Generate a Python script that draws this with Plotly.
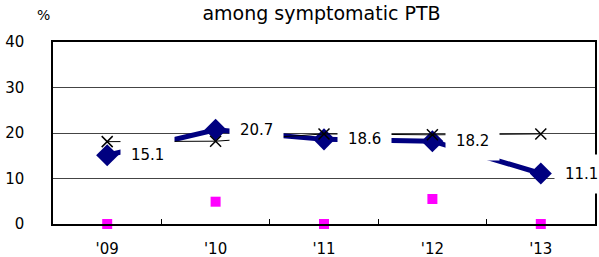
import plotly.graph_objects as go

years = ["'09", "'10", "'11", "'12", "'13"]
blue_vals = [15.1, 20.7, 18.6, 18.2, 11.1]
black_vals = [18.1, 18.2, 19.8, 19.6, 19.8]
pink_vals = [0, 4.9, 0, 5.5, 0]
y_ticks = [0, 10, 20, 30, 40]

FONT = "DejaVu Sans"

fig = go.Figure()
fig.add_trace(go.Scatter(
    x=years, y=blue_vals, mode="lines+markers",
    line=dict(color="#000080", width=5),
    marker=dict(symbol="diamond", size=17, color="#000080"),
    cliponaxis=False, showlegend=False))
fig.add_trace(go.Scatter(
    x=years, y=black_vals, mode="lines+markers",
    line=dict(color="black", width=1),
    marker=dict(symbol="x-thin", size=11, line=dict(color="black", width=1.5)),
    cliponaxis=False, showlegend=False))
fig.add_trace(go.Scatter(
    x=years, y=pink_vals, mode="markers",
    marker=dict(symbol="square", size=10, color="#FF00FF"),
    cliponaxis=False, showlegend=False))

for xv, yv in zip(years, blue_vals):
    fig.add_annotation(x=xv, y=yv, xref="x", yref="y", text=f"{yv:.1f}",
                       showarrow=False, xanchor="left", yanchor="middle",
                       xshift=13, bgcolor="white", borderpad=10,
                       font=dict(family=FONT, size=15, color="black"))

fig.add_annotation(x=-0.018, y=1.15, xref="paper", yref="paper", text="%",
                   showarrow=False, xanchor="center", yanchor="middle",
                   font=dict(family=FONT, size=14, color="black"))
fig.update_layout(
    width=599, height=257,
    margin=dict(l=53, r=4, t=42, b=33, autoexpand=False),
    paper_bgcolor="white", plot_bgcolor="white",
    font=dict(family=FONT, size=15, color="black"),
    title=dict(text="among symptomatic PTB", x=321.5 / 599, xanchor="center",
               y=0.95, yanchor="middle", yref="container",
               font=dict(family=FONT, size=19, color="black")),
    showlegend=False,
)

fig.update_xaxes(type="category", showline=True, linecolor="black", linewidth=1.5,
                 mirror=True, ticks="inside", ticklen=5, tickcolor="black",
                 tickson="boundaries", showgrid=False, ticklabelstandoff=10,
                 automargin=False,
                 range=[-0.5, 4.5], tickfont=dict(family=FONT, size=15))
fig.update_yaxes(range=[0, 40], tickvals=y_ticks, showline=True, linecolor="black",
                 linewidth=1.5, mirror=True, showgrid=True, gridcolor="#444444",
                 gridwidth=1, zeroline=False, ticks="", ticklabelstandoff=24,
                 automargin=False,
                 tickfont=dict(family=FONT, size=15))

fig.write_html("out.html", config={"displayModeBar": False},
               post_script="document.body.style.margin='0';document.body.style.overflow='hidden';")
